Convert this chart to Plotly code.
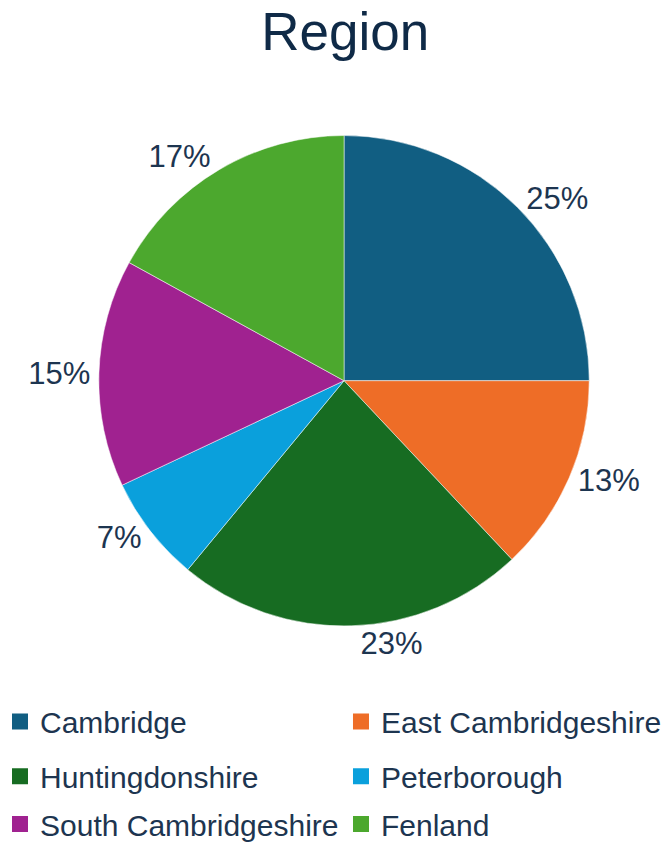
import plotly.graph_objects as go

regions = ["Cambridge", "East Cambridgeshire", "Huntingdonshire", "Peterborough",
           "South Cambridgeshire", "Fenland"]
shares = [25, 13, 23, 7, 15, 17]
colors = ["#115e82", "#ee6d27", "#176c22", "#0aa0dc", "#a02290", "#4ca82e"]

FONT = "Liberation Sans, Arial, sans-serif"
TEXT_COLOR = "#1d3550"

fig = go.Figure()
fig.add_trace(go.Pie(
    labels=regions,
    values=shares,
    sort=False,
    direction="clockwise",
    rotation=0,
    marker=dict(colors=colors, line=dict(color="white", width=0.5)),
    textinfo="percent",
    texttemplate="%{percent:.0%}",
    textposition="outside",
    outsidetextfont=dict(size=31, color=TEXT_COLOR, family=FONT),
    domain=dict(x=[0.1465, 0.882], y=[0.261, 0.84]),
    hoverinfo="label+percent",
    showlegend=False,
))

# legend: one small legend per region, laid out in 3 rows x 2 columns
legend_ids = ["legend", "legend2", "legend3", "legend4", "legend5", "legend6"]
for name, col, lg in zip(regions, colors, legend_ids):
    fig.add_trace(go.Scatter(
        x=[None], y=[None], mode="markers", name=name,
        marker=dict(symbol="square", size=18, color=col),
        legend=lg, showlegend=True, hoverinfo="skip",
    ))

col_x = [0.0, 0.5097]
row_y = [0.1482, 0.0835, 0.027]
leg_layout = {}
for i, lg in enumerate(legend_ids):
    leg_layout[lg] = dict(
        orientation="h", x=col_x[i % 2], xanchor="left",
        y=row_y[i // 2], yanchor="middle",
        font=dict(size=30, color=TEXT_COLOR, family=FONT),
        bgcolor="rgba(0,0,0,0)", itemsizing="trace",
    )

fig.update_layout(
    width=669, height=850,
    margin=dict(l=0, r=0, t=0, b=0),
    paper_bgcolor="white", plot_bgcolor="white",
    title=dict(text="Region", x=0.516, xanchor="center", y=0.963, yanchor="middle",
               font=dict(size=53, color="#0f2a47", family=FONT)),
    font=dict(family=FONT, color=TEXT_COLOR),
    xaxis=dict(visible=False),
    yaxis=dict(visible=False),
    **leg_layout,
)

fig.write_html("out.html")
